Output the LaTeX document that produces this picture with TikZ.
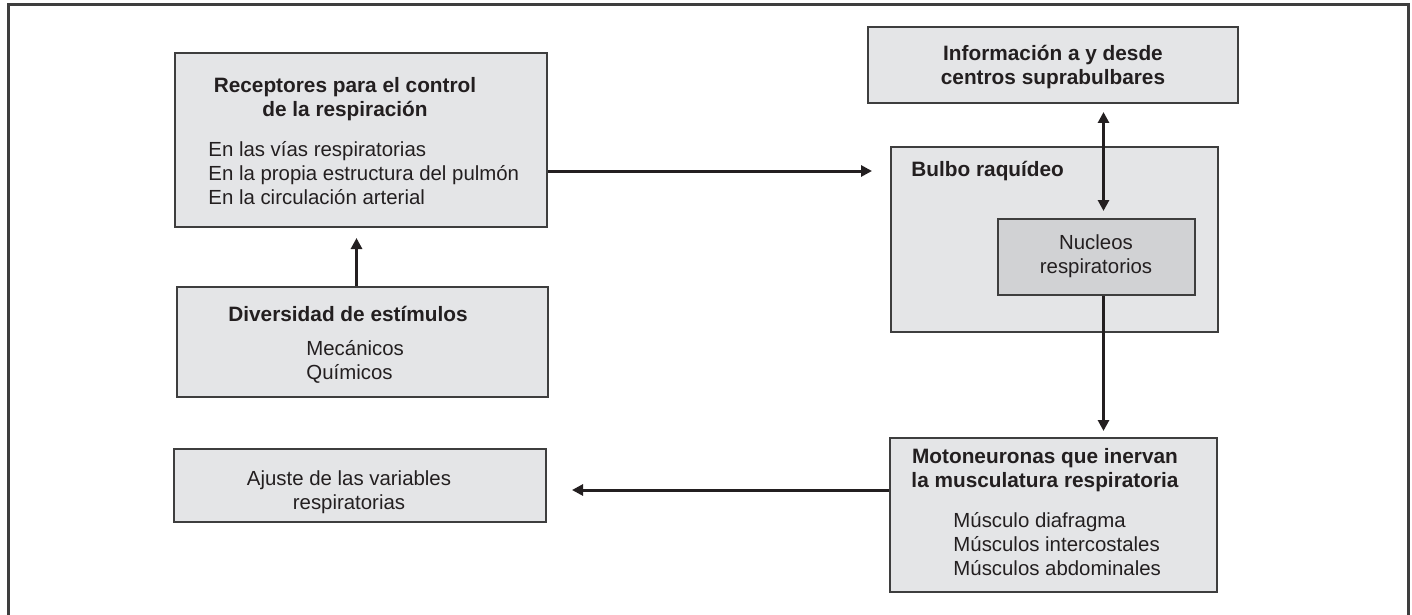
\documentclass[tikz,border=0pt]{standalone}
\usepackage{fontspec}
\setmainfont{Liberation Sans}
\usetikzlibrary{positioning,arrows.meta}
\definecolor{panelgray}{RGB}{228,229,231}
\definecolor{coregray}{RGB}{209,210,212}
\definecolor{edgegray}{RGB}{62,62,62}
\definecolor{inkblack}{RGB}{35,31,32}
\tikzset{
  flowarrow/.style={-{Triangle[length=5.5pt, width=5.5pt]}, line width=1.5pt, inkblack},
  twoway/.style={{Triangle[length=5.5pt, width=5.5pt]}-{Triangle[length=5.5pt, width=5.5pt]}, line width=1.5pt, inkblack},
  panelnode/.style={draw=edgegray, line width=1pt, fill=panelgray, inner sep=0pt},
  corenode/.style={panelnode, fill=coregray},
  headtext/.style={font=\fontsize{10.4}{12}\selectfont\bfseries, text=inkblack, align=center, inner sep=0pt},
  itemtext/.style={font=\fontsize{10.2}{12}\selectfont, text=inkblack, align=left, inner sep=0pt, anchor=west},
  frameline/.style={line width=1.5pt, edgegray}
}
\begin{document}
\begin{tikzpicture}[x=0.5pt, y=-0.5pt]
  \useasboundingbox (0,0) rectangle (1412,615);
  \draw[frameline] (8.5,615) -- (8.5,4.5) -- (1408.5,4.5) -- (1408.5,615);
  \node[panelnode, minimum width=186pt, minimum height=87pt] (recep) at (361,140) {};
  \node[panelnode, minimum width=185pt, minimum height=38pt] (info) at (1053,65) {};
  \node[panelnode, minimum width=163.5pt, minimum height=92.5pt] (bulbo) at (1054.5,239.5) {};
  \node[corenode, minimum width=98.5pt, minimum height=38pt] (nucleos) at (1096.5,257) {};
  \node[panelnode, minimum width=185.5pt, minimum height=55pt] (estim) at (362.5,342) {};
  \node[panelnode, minimum width=163.5pt, minimum height=77pt] (moto) at (1053.5,515) {};
  \node[panelnode, minimum width=186pt, minimum height=36.5pt] (ajuste) at (360,485.5) {};
  \node[headtext] (receptit) at (345,99) {Receptores para el control\\de la respiración};
  \node[itemtext] (recepitems) at (208,173.5) {En las vías respiratorias\\En la propia estructura del pulmón\\En la circulación arterial};
  \node[headtext] (infotit) at (1053,67.5) {Información a y desde\\centros suprabulbares};
  \node[headtext, anchor=west] (bulbotit) at (911,171) {Bulbo raquídeo};
  \node[itemtext, anchor=center, align=center] (nuctxt) at (1096,256) {Nucleos\\respiratorios};
  \node[headtext] (estimtit) at (348,314) {Diversidad de estímulos};
  \node[itemtext] (estimitems) at (306,361.5) {Mecánicos\\Químicos};
  \node[headtext] (mototit) at (1045,470) {Motoneuronas que inervan\\la musculatura respiratoria};
  \node[itemtext] (motoitems) at (953,544) {Músculo diafragma\\Músculos intercostales\\Músculos abdominales};
  \node[itemtext, anchor=center, align=center] (ajustetxt) at (349,492) {Ajuste de las variables\\respiratorias};
  \draw[flowarrow, shorten >=9pt] (recep.east |- bulbotit) -- (bulbo.west |- bulbotit);
  \draw[twoway, shorten <=4pt, shorten >=3.5pt] ([xshift=3.5pt]nucleos.north |- info.south) -- ([xshift=3.5pt]nucleos.north);
  \draw[flowarrow, shorten >=3pt] ([xshift=3.5pt]nucleos.south) -- ([xshift=3.5pt]nucleos.south |- moto.north);
  \draw[flowarrow, shorten >=5pt] ([xshift=-3pt]estim.north) -- ([xshift=-3pt]estim.north |- recep.south);
  \draw[flowarrow, shorten >=12.5pt] ([yshift=-2.25pt]moto.west |- ajuste.east) -- ([yshift=-2.25pt]ajuste.east);
\end{tikzpicture}
\end{document}
